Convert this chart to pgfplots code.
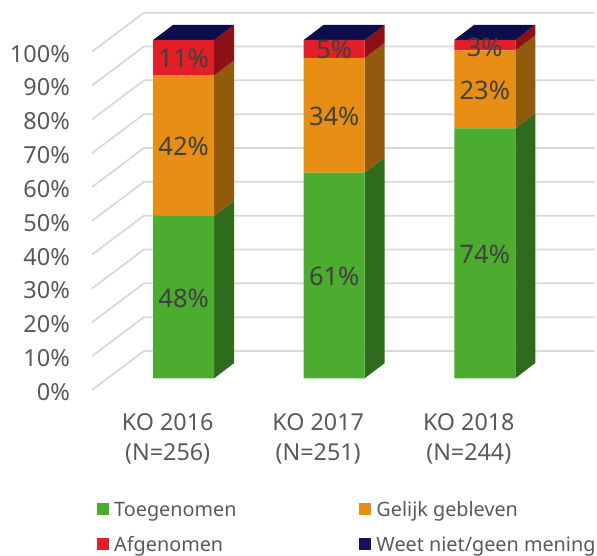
\documentclass[border=0pt]{standalone}
\usepackage{fontspec}
\setmainfont{Noto Sans}
\usepackage{pgfplots}
\pgfplotsset{compat=1.18}
\definecolor{cgreen}{RGB}{75,172,48}
\definecolor{corange}{RGB}{232,142,20}
\definecolor{cred}{RGB}{226,30,38}
\definecolor{cnavy}{RGB}{18,18,96}
\definecolor{dgreen}{RGB}{47,107,28}
\definecolor{dorange}{RGB}{146,90,12}
\definecolor{dred}{RGB}{140,16,22}
\definecolor{dnavy}{RGB}{13,13,78}
\definecolor{gridc}{RGB}{217,217,217}
\definecolor{tickc}{RGB}{89,89,89}
\definecolor{labc}{RGB}{64,64,64}
\pgfplotsset{
  base/.style={
    scale only axis, width=505pt, height=338.3pt,
    xmin=-0.6089, xmax=2.7455, ymin=0, ymax=100,
    clip=false, at={(92pt,166pt)}, anchor=south west,
    /pgf/number format/assume math mode=true,
  },
  wall/.style={gridc, line width=1.8pt, no markers, forget plot},
  face/.style={draw=none, fill=#1, no markers, forget plot, yshift=11.7pt},
}
\begin{document}
\begin{tikzpicture}
\path[use as bounding box] (0,0) rectangle (597pt,556pt);
% back wall, tick labels, side and top faces
\begin{axis}[
  base,
  axis line style={draw=none},
  major tick length=0pt,
  ytick={0,10,...,100},
  yticklabel={\pgfmathprintnumber{\tick}\%},
  yticklabel style={font=\fontsize{23.5}{26}\selectfont, text=tickc, xshift=-22pt, yshift=-2pt, inner sep=0pt},
  xtick={0,1,2},
  xticklabels={{KO 2016\\(N=256)},{KO 2017\\(N=251)},{KO 2018\\(N=244)}},
  xticklabel style={font=\fontsize{23.3}{30}\selectfont, text=tickc, align=center, xshift=-16pt, yshift=-20pt},
]
\addplot[wall] coordinates {(-0.6089,0)(-0.2636,11.53)(2.731,11.53)};
\addplot[wall] coordinates {(-0.6089,10)(-0.2636,21.53)(2.731,21.53)};
\addplot[wall] coordinates {(-0.6089,20)(-0.2636,31.53)(2.731,31.53)};
\addplot[wall] coordinates {(-0.6089,30)(-0.2636,41.53)(2.731,41.53)};
\addplot[wall] coordinates {(-0.6089,40)(-0.2636,51.53)(2.731,51.53)};
\addplot[wall] coordinates {(-0.6089,50)(-0.2636,61.53)(2.731,61.53)};
\addplot[wall] coordinates {(-0.6089,60)(-0.2636,71.53)(2.731,71.53)};
\addplot[wall] coordinates {(-0.6089,70)(-0.2636,81.53)(2.731,81.53)};
\addplot[wall] coordinates {(-0.6089,80)(-0.2636,91.53)(2.731,91.53)};
\addplot[wall] coordinates {(-0.6089,90)(-0.2636,101.53)(2.731,101.53)};
\addplot[wall] coordinates {(-0.6089,100)(-0.2636,111.53)(2.731,111.53)};
% KO 2016
\addplot[face=dgreen] coordinates {(0.2025,0)(0.3353,4.5)(0.3353,52.5)(0.2025,48)} --cycle;
\addplot[face=dorange] coordinates {(0.2025,48)(0.3353,52.5)(0.3353,94)(0.2025,89.5)} --cycle;
\addplot[face=dred] coordinates {(0.2025,89.5)(0.3353,94)(0.3353,104.5)(0.2025,100)} --cycle;
\addplot[face=dnavy] coordinates {(-0.2025,100)(0.2025,100)(0.3353,104.5)(-0.0697,104.5)} --cycle;
% KO 2017
\addplot[face=dgreen] coordinates {(1.2025,0)(1.3353,4.5)(1.3353,65.3)(1.2025,60.8)} --cycle;
\addplot[face=dorange] coordinates {(1.2025,60.8)(1.3353,65.3)(1.3353,99.2)(1.2025,94.7)} --cycle;
\addplot[face=dred] coordinates {(1.2025,94.7)(1.3353,99.2)(1.3353,104.5)(1.2025,100)} --cycle;
\addplot[face=dnavy] coordinates {(0.7975,100)(1.2025,100)(1.3353,104.5)(0.9303,104.5)} --cycle;
% KO 2018
\addplot[face=dgreen] coordinates {(2.2025,0)(2.3353,4.5)(2.3353,78.4)(2.2025,73.9)} --cycle;
\addplot[face=dorange] coordinates {(2.2025,73.9)(2.3353,78.4)(2.3353,101.4)(2.2025,96.9)} --cycle;
\addplot[face=dred] coordinates {(2.2025,96.9)(2.3353,101.4)(2.3353,104.5)(2.2025,100)} --cycle;
\addplot[face=dnavy] coordinates {(1.7975,100)(2.2025,100)(2.3353,104.5)(1.9303,104.5)} --cycle;
\end{axis}
% front faces
\begin{axis}[
  base, hide axis,
  ybar stacked, bar width=61pt,
  every axis plot/.append style={draw=none, yshift=11.7pt},
  legend columns=2,
  legend cell align=left,
  legend style={
    at={(rel axis cs:0.01,-0.3237)}, anchor=north west,
    draw=none, fill=none, inner sep=0pt,
    font=\fontsize{19.8}{24}\selectfont, text=tickc,
    /tikz/column 1/.style={column sep=3pt},
    /tikz/column 2/.style={column sep=121pt},
    /tikz/column 3/.style={column sep=3pt},
    row sep=14pt,
  },
  legend image code/.code={\fill[#1] (0pt,-17pt) rectangle (12pt,-5pt);},
]
\addplot[fill=cgreen] coordinates {(0,48)(1,60.8)(2,73.9)};
\addplot[fill=corange] coordinates {(0,41.5)(1,33.9)(2,23)};
\addplot[fill=cred] coordinates {(0,10.5)(1,5.3)(2,3.1)};
\addplot[fill=cnavy] coordinates {(0,0)(1,0)(2,0)};
\legend{Toegenomen,Gelijk gebleven,Afgenomen,Weet niet/geen mening}
\end{axis}
% value labels
\begin{axis}[base, hide axis]
\addplot[
  only marks, mark=none, point meta=explicit, yshift=10.7pt,
  nodes near coords={\pgfmathprintnumber{\pgfplotspointmeta}\%},
  nodes near coords align={center},
  every node near coord/.style={font=\fontsize{25.5}{28}\selectfont, text=labc, inner sep=0pt},
] coordinates {
  (0,24)[48] (0,68.8)[42] (0,94.8)[11]
  (1,30.4)[61] (1,77.8)[34] (1,97.5)[5]
  (2,37)[74] (2,85.4)[23] (2,98)[3]
};
\end{axis}
\end{tikzpicture}
\end{document}
